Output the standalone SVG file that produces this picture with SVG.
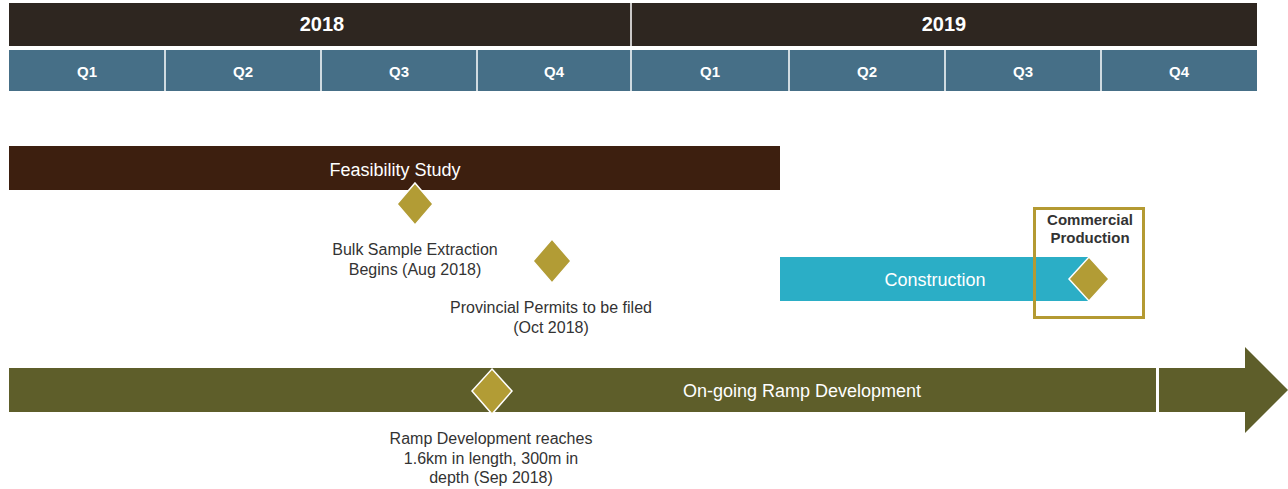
<svg xmlns="http://www.w3.org/2000/svg" width="1288" height="489" viewBox="0 0 1288 489">
  <style>
    .year { fill: #2e2620; }
    .qtr { fill: #466f87; }
    .sep { stroke: #ffffff; stroke-width: 1.5; }
    .hdr { font-family: "Liberation Sans", Arial, sans-serif; font-weight: bold; fill: #ffffff; text-anchor: middle; }
    .bar-label { font-family: "Liberation Sans", Arial, sans-serif; fill: #ffffff; text-anchor: middle; font-size: 18px; }
    .note { font-family: "Liberation Sans", Arial, sans-serif; fill: #333333; text-anchor: middle; font-size: 16px; }
    .milestone { fill: #b29c35; stroke: #ffffff; stroke-width: 1.5; stroke-linejoin: miter; }
  </style>

  <rect width="1288" height="489" fill="#ffffff"/>

  <!-- year header -->
  <g id="years">
    <rect class="year" x="9" y="3" width="1248" height="43"/>
    <line class="sep" x1="631" y1="3" x2="631" y2="46"/>
    <text class="hdr" x="322" y="31" font-size="20">2018</text>
    <text class="hdr" x="944" y="31" font-size="20">2019</text>
  </g>

  <!-- quarter header -->
  <g id="quarters">
    <rect class="qtr" x="9" y="50" width="1248" height="41"/>
    <line class="sep" x1="165" y1="50" x2="165" y2="91"/>
    <line class="sep" x1="321" y1="50" x2="321" y2="91"/>
    <line class="sep" x1="477" y1="50" x2="477" y2="91"/>
    <line class="sep" x1="631" y1="50" x2="631" y2="91"/>
    <line class="sep" x1="789" y1="50" x2="789" y2="91"/>
    <line class="sep" x1="945" y1="50" x2="945" y2="91"/>
    <line class="sep" x1="1101" y1="50" x2="1101" y2="91"/>
    <text class="hdr" x="87" y="77" font-size="15">Q1</text>
    <text class="hdr" x="243" y="77" font-size="15">Q2</text>
    <text class="hdr" x="399" y="77" font-size="15">Q3</text>
    <text class="hdr" x="554" y="77" font-size="15">Q4</text>
    <text class="hdr" x="710" y="77" font-size="15">Q1</text>
    <text class="hdr" x="867" y="77" font-size="15">Q2</text>
    <text class="hdr" x="1023" y="77" font-size="15">Q3</text>
    <text class="hdr" x="1179" y="77" font-size="15">Q4</text>
  </g>

  <!-- feasibility study bar -->
  <g id="feasibility">
    <rect x="9" y="146" width="771" height="44" fill="#3d1f0f"/>
    <text class="bar-label" x="395" y="176" font-size="17">Feasibility Study</text>
  </g>

  <!-- construction bar -->
  <g id="construction">
    <rect x="780" y="257" width="309" height="44" fill="#2baec6"/>
    <text class="bar-label" x="935" y="286">Construction</text>
  </g>

  <!-- ongoing ramp development -->
  <g id="ramp">
    <rect x="9" y="368" width="1147" height="44" fill="#5e5e2a"/>
    <polygon points="1159,368 1245,368 1245,347 1288,390 1245,433 1245,412 1159,412" fill="#5e5e2a"/>
    <text class="bar-label" x="802" y="397">On-going Ramp Development</text>
  </g>

  <!-- commercial production milestone -->
  <g id="commercial-production">
    <rect x="1034.5" y="208.5" width="109" height="109" fill="none" stroke="#b49a32" stroke-width="3"/>
    <polygon class="milestone" points="1089,257 1109,279 1089,301 1069,279"/>
    <text class="hdr" x="1090" y="225" font-size="15" style="fill:#333333">Commercial</text>
    <text class="hdr" x="1090" y="243" font-size="15" style="fill:#333333">Production</text>
  </g>

  <!-- bulk sample milestone -->
  <g id="bulk-sample">
    <polygon class="milestone" points="415,183 433,204 415,225 397,204"/>
    <text class="note" x="415" y="255">Bulk Sample Extraction</text>
    <text class="note" x="415" y="275">Begins (Aug 2018)</text>
  </g>

  <!-- provincial permits milestone -->
  <g id="permits">
    <polygon class="milestone" points="552,239 571,261 552,283 533,261"/>
    <text class="note" x="551" y="313">Provincial Permits to be filed</text>
    <text class="note" x="551" y="333">(Oct 2018)</text>
  </g>

  <!-- ramp development milestone -->
  <g id="ramp-milestone">
    <polygon class="milestone" points="492,369 512,391 492,414 472,391"/>
    <text class="note" x="491" y="444">Ramp Development reaches</text>
    <text class="note" x="491" y="464">1.6km in length, 300m in</text>
    <text class="note" x="491" y="483">depth (Sep 2018)</text>
  </g>

  <g id="connectors"/>
</svg>
